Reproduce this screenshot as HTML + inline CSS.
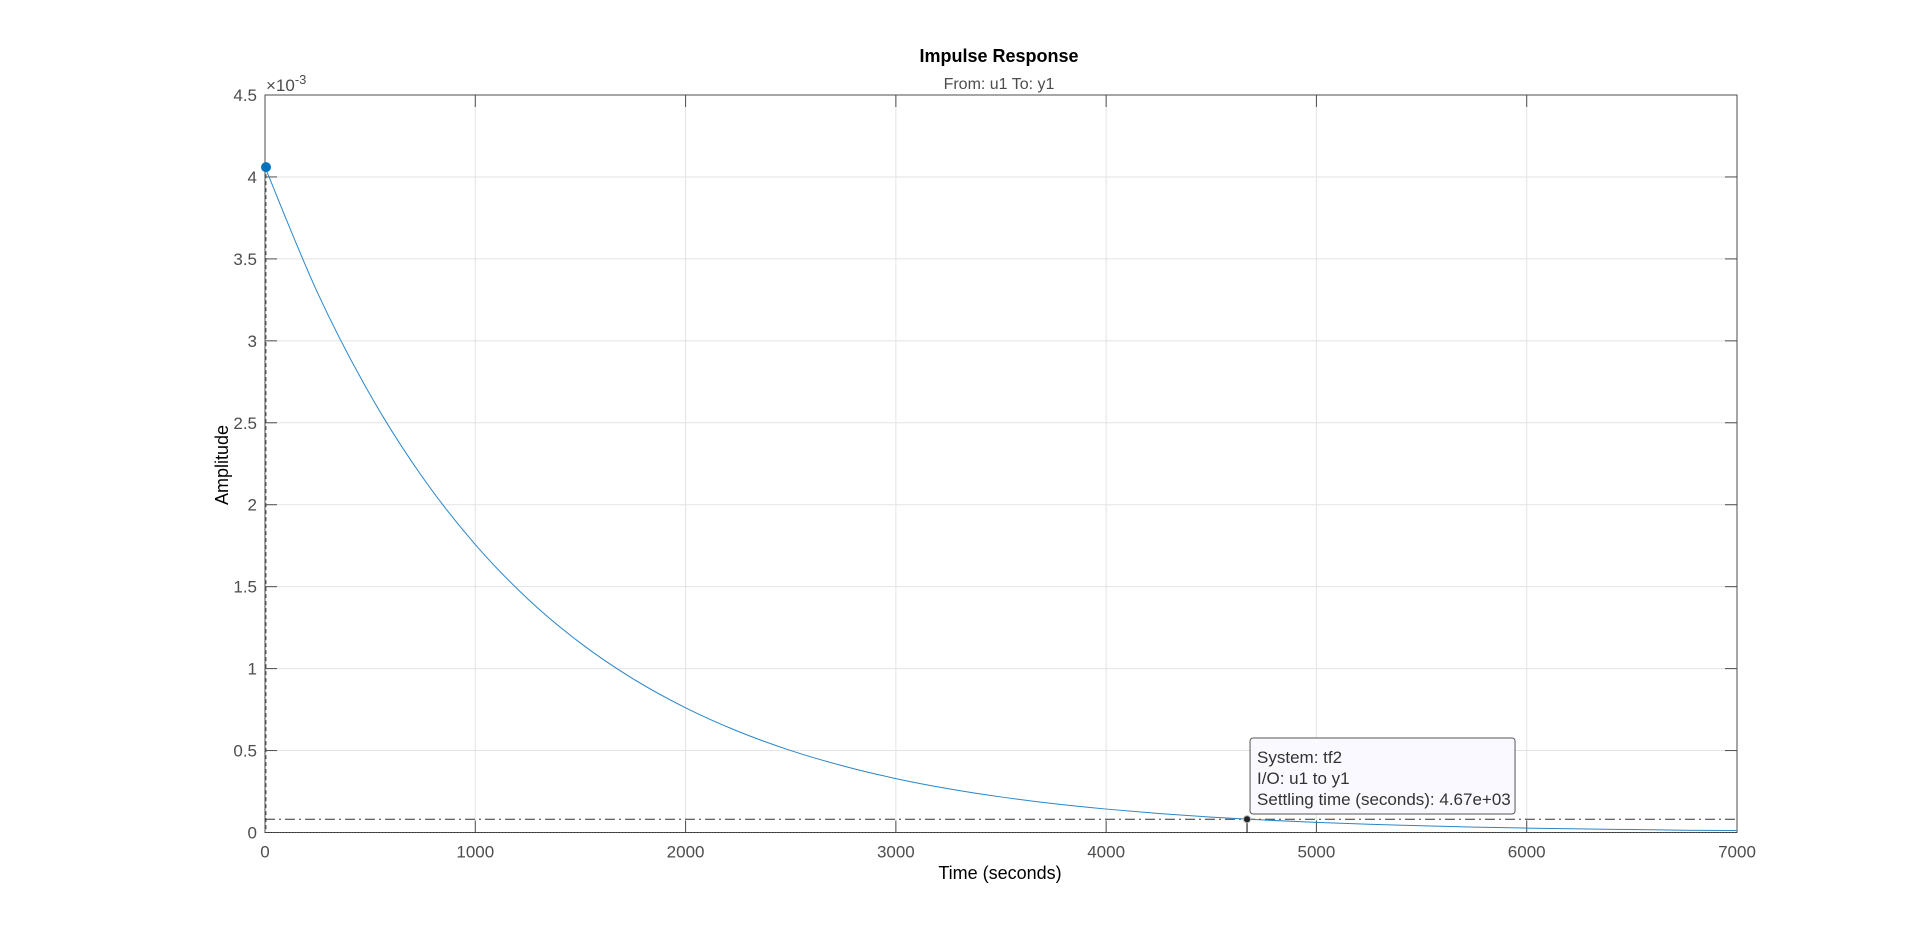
<!DOCTYPE html>
<html><head><meta charset="utf-8"><style>
html,body{margin:0;padding:0;background:#fff;width:1920px;height:936px;overflow:hidden}
svg{display:block;font-family:"Liberation Sans",sans-serif}
</style></head><body>
<svg id="chart" width="1920" height="936">
<g id="grid"></g>
<g id="axes"></g>
<g id="series"></g>
<text x="999" y="62" text-anchor="middle" font-size="18" font-weight="bold" fill="#000">Impulse Response</text>
<text x="999" y="89" text-anchor="middle" font-size="16" fill="#4d4d4d">From: u1  To: y1</text>
<text x="1000" y="879" text-anchor="middle" font-size="18" fill="#000">Time (seconds)</text>
<text transform="translate(228,465) rotate(-90)" text-anchor="middle" font-size="18" fill="#000">Amplitude</text>
<text x="266" y="91" font-size="17" fill="#4d4d4d">×10<tspan dy="-7" font-size="13">-3</tspan></text>
</svg>
<script>
const xTicks=[0,1000,2000,3000,4000,5000,6000,7000];
const yTicks=[0,0.5,1,1.5,2,2.5,3,3.5,4,4.5];
const yTickLabels=["0","0.5","1","1.5","2","2.5","3","3.5","4","4.5"];
const times=[0,250,500,750,1000,1250,1500,1750,2000,2250,2500,2750,3000,3250,3500,3750,4000,4250,4500,4750,5000,5250,5500,5750,6000,6250,6500,6750,7000];
const amps=[4.06,3.293,2.671,2.166,1.757,1.425,1.156,0.938,0.761,0.617,0.500,0.406,0.329,0.267,0.217,0.176,0.143,0.116,0.094,0.076,0.062,0.050,0.041,0.033,0.027,0.022,0.018,0.014,0.012];
const peak=[0,4.06];
const settlingTime=4670;
const settlingLevel=0.0812;

const L=265,R=1737,T=95,B=832.5;
const X=v=>L+(v-0)/(7000-0)*(R-L);
const Y=v=>B-(v-0)/(4.5-0)*(B-T);
const NS="http://www.w3.org/2000/svg";
function mk(tag,attrs,parent){const e=document.createElementNS(NS,tag);for(const k in attrs)e.setAttribute(k,attrs[k]);parent.appendChild(e);return e;}
const grid=document.getElementById('grid'),axes=document.getElementById('axes'),series=document.getElementById('series'),svg=document.getElementById('chart');

xTicks.forEach((t,i)=>{
  const g=mk('line',{x1:X(t),x2:X(t),y1:T,y2:B,stroke:'#e3e3e3','stroke-width':1},grid);
  
  
  mk('line',{x1:X(t),x2:X(t),y1:B,y2:B-12,stroke:'#4d4d4d'},axes);
  mk('line',{x1:X(t),x2:X(t),y1:T,y2:T+12,stroke:'#4d4d4d'},axes);
  const tx=mk('text',{x:X(t),y:B+25,'text-anchor':'middle','font-size':17,fill:'#4d4d4d'},axes);
  tx.textContent=String(t);
  
  
});
yTicks.forEach((v,i)=>{
  const g=mk('line',{x1:L,x2:R,y1:Y(v),y2:Y(v),stroke:'#e3e3e3','stroke-width':1},grid);
  
  
  mk('line',{x1:L,x2:L+12,y1:Y(v),y2:Y(v),stroke:'#4d4d4d'},axes);
  mk('line',{x1:R,x2:R-12,y1:Y(v),y2:Y(v),stroke:'#4d4d4d'},axes);
  const tx=mk('text',{x:L-8,y:Y(v)+6,'text-anchor':'end','font-size':17,fill:'#4d4d4d'},axes);
  tx.textContent=yTickLabels[i];
  
  
});
const box=mk('rect',{x:L,y:T,width:R-L,height:B-T,fill:'none',stroke:'#4d4d4d','stroke-width':1},axes);



const z=mk('line',{x1:L,x2:R,y1:Y(0),y2:Y(0),stroke:'#333','stroke-dasharray':'1,2'},series);


const vz=mk('line',{x1:X(0)+1,x2:X(0)+1,y1:Y(peak[1]),y2:B,stroke:'#555','stroke-dasharray':'4,3'},series);


const sl=mk('line',{x1:L,x2:R,y1:Y(settlingLevel),y2:Y(settlingLevel),stroke:'#333','stroke-dasharray':'10,4,2,4'},series);


const sv=mk('line',{x1:X(settlingTime),x2:X(settlingTime),y1:Y(settlingLevel),y2:B,stroke:'#000'},series);



const pts=times.map((t,i)=>[X(t),Y(amps[i])]);
let d='M'+pts[0][0]+','+pts[0][1];
for(let i=0;i<pts.length-1;i++){
  const p0=pts[Math.max(0,i-1)],p1=pts[i],p2=pts[i+1],p3=pts[Math.min(pts.length-1,i+2)];
  d+=' C'+(p1[0]+(p2[0]-p0[0])/6)+','+(p1[1]+(p2[1]-p0[1])/6)+' '+(p2[0]-(p3[0]-p1[0])/6)+','+(p2[1]-(p3[1]-p1[1])/6)+' '+p2[0]+','+p2[1];
}
const c=mk('path',{d:d,fill:'none',stroke:'#2a86c8','stroke-width':1},series);


const pk=mk('circle',{cx:X(peak[0])+1,cy:Y(peak[1]),r:5,fill:'#0072BD'},series);


const sm=mk('circle',{cx:X(settlingTime),cy:Y(settlingLevel),r:3.5,fill:'#222',stroke:'#aaa'},series);



const tg=mk('g',{},svg);


const bx=X(settlingTime)+3;
mk('rect',{x:bx,y:738,width:265,height:76,rx:3,fill:'#f9f9ff',stroke:'#555'},tg);
["System: tf2","I/O: u1 to y1","Settling time (seconds): 4.67e+03"].forEach((s,i)=>{
  const t=mk('text',{x:bx+7,y:763+i*21,'font-size':17,fill:'#333'},tg);
  t.textContent=s;
});
</script>
</body></html>
